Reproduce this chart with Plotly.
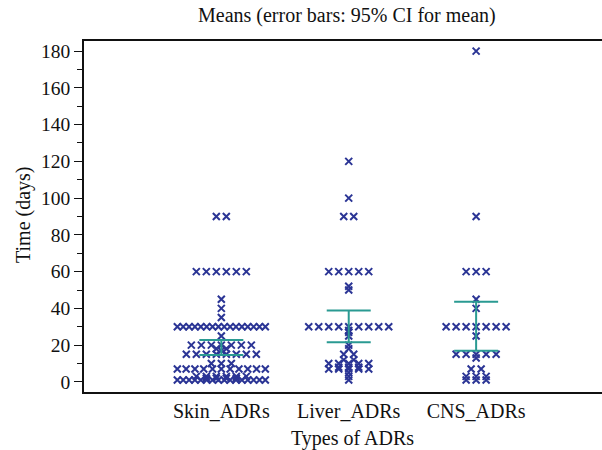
import plotly.graph_objects as go

categories = ["Skin_ADRs", "Liver_ADRs", "CNS_ADRs"]
cat_pos = [1, 2, 3]

skin_values = [90, 60, 45, 40, 35, 30, 25, 20, 18, 17, 15, 10, 7, 3, 2, 1]
skin_counts = [2, 6, 1, 1, 1, 16, 1, 7, 2, 1, 8, 3, 11, 6, 4, 16]

liver_values = [120, 100, 90, 60, 52, 50, 30, 28, 27, 25, 20, 18, 15, 12, 10, 8, 7, 5, 3, 1]
liver_counts = [1, 1, 2, 5, 1, 1, 9, 1, 1, 1, 1, 1, 2, 2, 5, 3, 5, 1, 1, 1]

cns_values = [180, 90, 60, 45, 40, 30, 25, 15, 13, 7, 3, 1]
cns_counts = [1, 1, 3, 1, 1, 7, 1, 5, 1, 2, 3, 3]

ci_mean = [18.75, 30.2, 30.3]
ci_low = [14.7, 21.6, 17.0]
ci_high = [22.8, 38.8, 43.6]

yticks = [0, 20, 40, 60, 80, 100, 120, 140, 160, 180]

W, H = 602, 450
ML, MR, MT, MB = 84, 0, 41, 450 - 392
PW, PH = W - ML - MR, H - MT - MB
x_range = [-0.078, 3.988]
px_per_unit = PW / (x_range[1] - x_range[0])

SPACING_PX = 10.0
MAXW_PX = 88.0

def spread(center, values, counts):
    xs, ys = [], []
    for v, n in zip(values, counts):
        sp = min(SPACING_PX, MAXW_PX / (n - 1)) if n > 1 else 0
        for i in range(n):
            xs.append(center + (i - (n - 1) / 2) * sp / px_per_unit)
            ys.append(v)
    return xs, ys

def px_x(p):
    return (p - ML) / PW

def px_y(p):
    return 1 - (p - MT) / PH

navy = "#2b3595"
teal = "#2a9a92"
font_family = "Liberation Serif"

fig = go.Figure()

for c, vals, cnts in zip(cat_pos, [skin_values, liver_values, cns_values],
                         [skin_counts, liver_counts, cns_counts]):
    xs, ys = spread(c, vals, cnts)
    fig.add_trace(go.Scatter(
        x=xs, y=ys, mode="markers",
        marker=dict(symbol="x-thin", size=7, color=navy,
                    line=dict(width=2, color=navy)),
        showlegend=False, hoverinfo="y"))

fig.add_trace(go.Scatter(
    x=cat_pos, y=ci_mean, mode="markers",
    marker=dict(size=1, color="rgba(0,0,0,0)"),
    error_y=dict(type="data", symmetric=False,
                 array=[h - m for h, m in zip(ci_high, ci_mean)],
                 arrayminus=[m - l for m, l in zip(ci_mean, ci_low)],
                 color=teal, thickness=2, width=22),
    showlegend=False, hoverinfo="skip"))

fig.update_layout(
    width=W, height=H,
    margin=dict(l=ML, r=MR, t=MT, b=MB, autoexpand=False),
    paper_bgcolor="white", plot_bgcolor="white",
    font=dict(family=font_family, size=20, color="#111111"),
    xaxis=dict(range=x_range, tickvals=cat_pos, ticktext=categories,
               showline=True, mirror=True, linecolor="#111111", linewidth=1.5,
               ticks="", showgrid=False, zeroline=False,
               tickfont=dict(size=20)),
    yaxis=dict(range=[-5.5, 185.5], tickvals=yticks,
               showline=True, mirror=False, linecolor="#111111", linewidth=1.5,
               ticks="outside", ticklen=8, tickwidth=1.2, tickcolor="#111111",
               minor=dict(dtick=10, ticks="outside", ticklen=5, tickwidth=1.2,
                          tickcolor="#111111", showgrid=False),
               showgrid=False, zeroline=False, tickfont=dict(size=19.5)),
    annotations=[
        dict(text="Means (error bars: 95% CI for mean)", xref="paper", yref="paper",
             x=px_x(347), y=px_y(16),
             xanchor="center", yanchor="middle", showarrow=False,
             font=dict(size=20)),
        dict(text="Types of ADRs", xref="paper", yref="paper",
             x=px_x(352), y=px_y(438),
             xanchor="center", yanchor="middle", showarrow=False,
             font=dict(size=20)),
        dict(text="Time (days)", xref="paper", yref="paper",
             x=px_x(23), y=px_y(215),
             xanchor="center", yanchor="middle", showarrow=False, textangle=-90,
             font=dict(size=20)),
    ],
)

fig.write_html("out.html",
               config={"displayModeBar": False},
               post_script="document.body.style.margin='0';document.body.style.overflow='hidden';")
